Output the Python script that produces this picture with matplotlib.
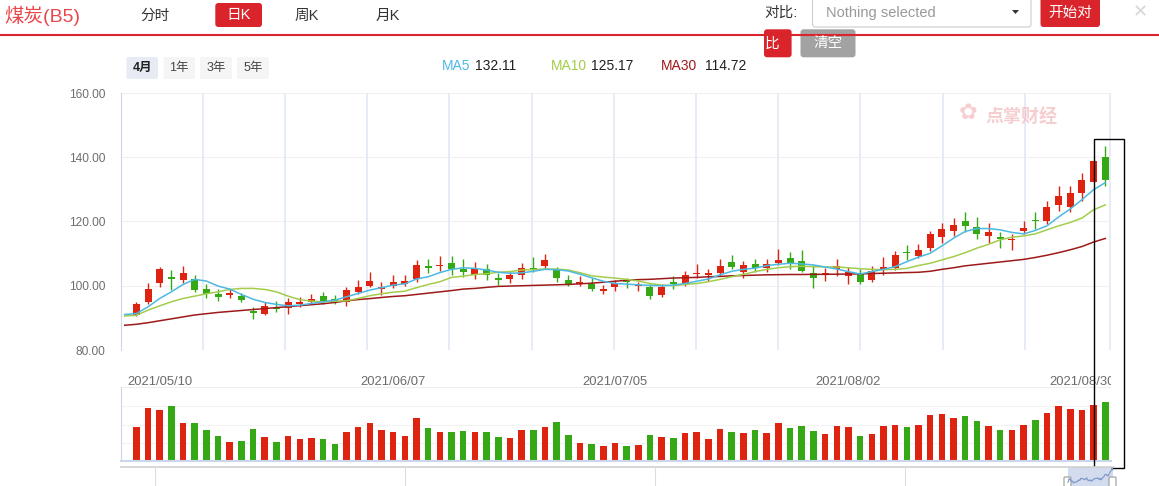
import numpy as np
import matplotlib
matplotlib.use("Agg")
import matplotlib.pyplot as plt
from matplotlib.patches import Rectangle, FancyBboxPatch, Polygon

plt.rcParams['font.family'] = ['Liberation Sans', 'Noto Sans CJK SC', 'DejaVu Sans']

# ---------------- data ----------------
title = "煤炭(B5)"
tick_dates = ["2021/05/10", "2021/06/07", "2021/07/05", "2021/08/02", "2021/08/30"]
tick_idx = [2, 22, 41, 61, 81]
y_ticks = [80, 100, 120, 140, 160]

opens = [91.04, 94.8, 100.73, 102.8, 101.8, 102.0, 98.96, 97.4, 97.2, 96.9,
         92.1, 91.25, 93.3, 93.1, 94.3, 94.8, 96.77, 95.8, 95.0, 98.1,
         100.0, 99.0, 100.0, 100.7, 102.1, 106.15, 106.25, 107.0, 105.2, 103.5,
         105.2, 102.4, 102.1, 103.5, 105.5, 106.25, 104.9, 101.8, 100.6, 100.5,
         98.5, 99.5, 101.46, 99.8, 99.7, 97.2, 101.04, 100.6, 103.65, 103.5,
         104.06, 107.4, 104.4, 106.8, 105.6, 107.0, 108.65, 107.7, 103.85, 103.3,
         105.1, 103.1, 103.6, 101.8, 105.1, 105.6, 110.5, 109.4, 111.9, 115.3,
         116.9, 120.2, 118.2, 115.6, 115.1, 114.2, 116.9, 120.5, 120.3, 125.0,
         124.6, 129.0, 132.2, 140.2]
highs = [94.8, 101.0, 105.8, 104.9, 106.1, 103.3, 100.4, 98.85, 98.96, 97.6,
         93.3, 94.8, 95.4, 96.25, 96.5, 97.3, 98.0, 97.1, 99.5, 101.8,
         104.2, 101.25, 103.5, 103.5, 108.0, 108.3, 109.3, 109.3, 108.2, 107.4,
         106.8, 104.0, 104.2, 107.0, 108.85, 109.9, 105.7, 103.3, 103.0, 102.3,
         100.2, 101.8, 102.3, 101.04, 100.4, 100.7, 102.9, 104.6, 106.8, 105.2,
         108.3, 109.6, 107.8, 108.3, 108.3, 111.5, 110.4, 111.1, 106.35, 105.4,
         108.3, 105.7, 105.3, 106.15, 108.96, 110.8, 112.7, 113.0, 117.1, 119.6,
         121.1, 123.0, 121.35, 119.5, 116.7, 116.1, 120.1, 123.0, 126.25, 131.15,
         131.15, 135.2, 139.0, 143.65]
lows = [90.6, 94.2, 99.5, 98.6, 101.0, 98.0, 96.25, 95.3, 96.25, 94.8,
        89.7, 90.8, 91.9, 91.25, 93.4, 94.4, 94.4, 94.4, 93.75, 97.4,
        99.6, 97.1, 99.2, 99.8, 101.25, 104.0, 104.7, 103.3, 102.8, 102.1,
        101.9, 100.3, 100.9, 102.0, 104.2, 105.2, 101.25, 100.0, 100.0, 98.3,
        97.5, 98.4, 99.4, 98.4, 95.9, 96.6, 99.06, 99.8, 102.5, 101.46,
        103.1, 105.2, 102.5, 104.3, 104.4, 106.5, 105.3, 104.3, 99.4, 101.5,
        103.1, 100.6, 100.5, 101.25, 103.5, 105.0, 107.9, 108.5, 110.9, 113.2,
        115.5, 116.8, 114.7, 113.4, 111.6, 111.1, 116.25, 117.7, 119.25, 123.4,
        123.0, 126.5, 132.2, 131.0]
closes = [94.17, 98.96, 105.2, 102.2, 103.85, 98.65, 97.5, 96.56, 97.8, 95.7,
          91.6, 93.65, 92.9, 94.8, 95.0, 95.8, 95.0, 95.2, 98.65, 99.6,
          101.46, 99.6, 101.04, 101.46, 106.5, 105.4, 106.45, 105.2, 104.2, 105.2,
          103.4, 101.9, 103.3, 105.4, 105.2, 108.0, 102.3, 100.4, 101.25, 98.85,
          98.96, 100.9, 101.04, 100.1, 96.9, 99.7, 100.5, 103.5, 103.95, 103.85,
          106.0, 105.9, 106.5, 105.6, 106.9, 108.0, 107.2, 104.7, 102.3, 103.85,
          106.0, 104.2, 101.25, 104.7, 105.9, 109.6, 110.1, 111.1, 116.15, 117.7,
          118.96, 118.75, 116.0, 116.8, 114.4, 114.4, 118.0, 120.1, 124.6, 128.0,
          128.96, 133.0, 138.96, 132.8]
volumes = [1.87, 2.91, 2.80, 3.02, 2.09, 2.09, 1.70, 1.37, 1.04, 1.10,
           1.76, 1.32, 1.04, 1.37, 1.21, 1.26, 1.21, 0.93, 1.59, 1.87,
           2.09, 1.70, 1.59, 1.37, 2.36, 1.81, 1.59, 1.59, 1.65, 1.59,
           1.59, 1.32, 1.26, 1.70, 1.70, 1.87, 2.14, 1.43, 0.99, 0.93,
           0.82, 0.99, 0.82, 0.88, 1.43, 1.32, 1.26, 1.54, 1.59, 1.21,
           1.76, 1.59, 1.54, 1.70, 1.54, 2.09, 1.81, 1.92, 1.65, 1.48,
           1.92, 1.87, 1.37, 1.48, 1.92, 1.98, 1.87, 1.98, 2.53, 2.58,
           2.36, 2.47, 2.20, 1.92, 1.70, 1.70, 1.98, 2.25, 2.64, 3.02,
           2.86, 2.80, 3.08, 3.24]
# moving averages, first value belongs to the (hidden) session before the first candle
ma5 = [91.04, 91.35, 93.44, 96.04, 98.1, 100.4, 101.98, 101.46, 99.9, 98.96,
       97.3, 95.8, 94.8, 94.2, 93.75, 93.96, 94.5, 95.0, 95.5, 96.56,
       97.6, 98.65, 99.4, 100.2, 100.6, 102.1, 102.8, 104.1, 105.1, 105.6,
       105.4, 104.9, 104.2, 103.9, 104.0, 104.5, 105.1, 105.0, 104.6, 103.6,
       102.5, 101.4, 100.7, 100.5, 100.3, 100.1, 100.0, 100.2, 100.7, 101.4,
       102.1, 103.4, 104.5, 105.1, 105.5, 106.26, 106.68, 107.0, 106.8, 106.47,
       105.85, 105.2, 104.4, 103.66, 104.4, 105.1, 105.95, 107.5, 108.9, 110.1,
       112.4, 114.8, 116.9, 117.8, 117.8, 117.4, 116.6, 116.15, 117.2, 118.65,
       121.4, 123.9, 126.8, 129.9, 132.11]
ma10 = [90.6, 90.8, 92.4, 93.75, 95.0, 96.04, 96.77, 97.5, 98.1, 98.85,
        99.17, 99.17, 98.85, 98.1, 96.77, 95.7, 95.2, 95.0, 95.2, 95.3,
        96.04, 96.9, 97.5, 98.0, 98.3, 99.4, 100.4, 101.25, 102.6, 103.0,
        103.5, 103.75, 104.2, 104.4, 104.9, 105.0, 105.2, 105.2, 104.9, 104.06,
        103.1, 102.7, 102.4, 101.98, 101.46, 100.7, 100.2, 100.0, 100.4, 100.7,
        101.25, 101.98, 102.8, 103.55, 104.4, 105.1, 105.6, 105.95, 106.05, 105.95,
        105.85, 105.85, 105.6, 105.3, 105.1, 105.0, 105.1, 105.4, 106.3, 107.0,
        108.03, 109.07, 110.3, 111.7, 112.9, 114.3, 115.1, 115.5, 116.15, 117.4,
        118.65, 119.7, 121.05, 123.65, 125.17]
ma30 = [87.7, 88.0, 88.5, 89.1, 89.7, 90.3, 90.9, 91.3, 91.7, 92.0,
        92.3, 92.6, 92.9, 93.2, 93.5, 93.8, 94.1, 94.4, 94.8, 95.3,
        95.7, 96.0, 96.35, 96.67, 96.9, 97.3, 97.7, 98.1, 98.5, 98.96,
        99.17, 99.5, 99.8, 99.9, 100.0, 100.1, 100.2, 100.3, 100.4, 100.6,
        100.8, 101.1, 101.4, 101.7, 101.9, 102.0, 102.2, 102.4, 102.5, 102.6,
        102.8, 102.9, 103.1, 103.2, 103.3, 103.4, 103.45, 103.5, 103.5, 103.55,
        103.55, 103.6, 103.65, 103.7, 103.8, 103.9, 104.0, 104.1, 104.2, 104.5,
        105.1, 105.6, 106.2, 106.6, 107.0, 107.4, 107.8, 108.2, 108.8, 109.5,
        110.3, 111.2, 112.2, 113.6, 114.72]

# ---------------- style ----------------
RED, GREEN = '#de2410', '#34a915'
C5, C10, C30 = '#4cb9e3', '#a3cd4b', '#9e1a1a'
BTN_RED = '#d9242b'
W, H = 1159, 486

fig = plt.figure(figsize=(W / 100, H / 100), dpi=100)


def fax(l, t, r, b, **kw):
    return fig.add_axes([l / W, 1 - b / H, (r - l) / W, (b - t) / H], **kw)


L, R = 120.7, 1111.0
xlo, xhi = -1.34, 83.49
n = len(opens)
x = np.arange(n)
o, h, lo, c = map(np.array, (opens, highs, lows, closes))
cols = np.where(c >= o, RED, GREEN)

# ---- candle panel ----
ax = fax(L, 93, R, 350)
ax.set_xlim(xlo, xhi)
ax.set_ylim(80, 160)
for s in ['top', 'right', 'bottom']:
    ax.spines[s].set_visible(False)
ax.spines['left'].set_color('#ccd6eb')
ax.set_xticks([])
ax.set_yticks(y_ticks)
ax.set_yticklabels([f'{v:.2f}' for v in y_ticks])
ax.tick_params(axis='y', length=0, pad=11.3, labelsize=8.6, labelcolor='#6e6e6e')
for v in y_ticks:
    ax.axhline(v, color='#f0f0f0', lw=0.8, zorder=0)
for gx in np.arange(xlo + 7.04, xhi - 1, 7.04):
    ax.axvline(gx, color='#e6ecf5', lw=1.4, zorder=0)
ax.axvline(xhi - 0.05, color='#e6ecf5', lw=1.4, zorder=0)

ax.vlines(x, lo, h, colors=cols, lw=1.0, zorder=2)
ax.bar(x, np.maximum(np.abs(c - o), 0.25), bottom=np.minimum(o, c), width=0.6,
       color=cols, linewidth=0, zorder=3)
xm = np.arange(-1, n)
ax.plot(xm, ma30, color=C30, lw=1.1, zorder=4)
ax.plot(xm, ma10, color=C10, lw=1.1, zorder=4)
ax.plot(xm, ma5, color=C5, lw=1.1, zorder=4)

# ---- date labels ----
lab = fax(L, 370, R, 393)
lab.set_xlim(xlo, xhi)
lab.set_ylim(0, 1)
lab.axis('off')
for i, d in zip(tick_idx, tick_dates):
    lab.text(i, 0.5, d, ha='center', va='center', fontsize=9.4, color='#6b6b6b', clip_on=True)

# ---- volume panel ----
vax = fax(L, 386.5, R, 461)
vax.set_xlim(xlo, xhi)
vax.set_ylim(0, 4.09)
vax.set_xticks([])
vax.set_yticks([])
for s in ['top', 'right']:
    vax.spines[s].set_visible(False)
vax.spines['left'].set_color('#ccd6eb')
vax.spines['bottom'].set_color('#ccd6eb')
vax.spines['bottom'].set_linewidth(1.5)
for v in [1, 2, 3]:
    vax.axhline(v, color='#f2f2f2', lw=0.8, zorder=0)
vax.axhline(4.07, color='#eeeeee', lw=0.8, zorder=0)
vax.bar(x, volumes, width=0.56, color=cols, linewidth=0, zorder=2)

# ---- overlay (header, legend, decorations) ----
ov = fig.add_axes([0, 0, 1, 1], zorder=10)
ov.set_xlim(0, W)
ov.set_ylim(H, 0)
ov.axis('off')


def box(x0, y0, x1, y1, fc, ec='none', lw=0, r=3):
    ov.add_patch(FancyBboxPatch((x0 + r, y0 + r), x1 - x0 - 2 * r, y1 - y0 - 2 * r,
                                boxstyle=f"round,pad={r}", fc=fc, ec=ec, lw=lw))


ov.text(4, 16, title, color='#e8474c', fontsize=14, ha='left', va='center')
ov.text(154.5, 16, '分时', color='#333333', fontsize=10.5, ha='center', va='center')
box(215.3, 3, 262, 27, BTN_RED)
ov.text(238.6, 15.5, '日K', color='white', fontsize=10.5, ha='center', va='center')
ov.text(307, 16, '周K', color='#333333', fontsize=10.5, ha='center', va='center')
ov.text(388, 16, '月K', color='#333333', fontsize=10.5, ha='center', va='center')
ov.plot([0, W], [35.5, 35.5], color=BTN_RED, lw=1.5)

ov.text(764, 13, '对比:', color='#333333', fontsize=10.5, ha='left', va='center')
box(812.5, -2, 1031, 27, 'white', ec='#cccccc', lw=0.8)
ov.text(826, 12.5, 'Nothing selected', color='#999999', fontsize=10.5, ha='left', va='center')
ov.add_patch(Polygon([(1012, 10), (1019, 10), (1015.5, 14)], closed=True, fc='#333333', ec='none'))
box(1040.5, -3, 1100, 27, BTN_RED)
ov.text(1070, 13, '开始对', color='white', fontsize=10.5, ha='center', va='center')
box(764, 29.3, 791.6, 57.3, BTN_RED)
ov.text(765, 43.5, '比', color='white', fontsize=10.5, ha='left', va='center')
box(800.5, 29.3, 855.5, 57.3, '#a2a2a2')
ov.text(828, 43.5, '清空', color='white', fontsize=10.5, ha='center', va='center')
ov.text(1140, 12, '✕', color='#d8d8d8', fontsize=13, ha='center', va='center',
        family=['DejaVu Sans'])

periods = ['4月', '1年', '3年', '5年']
pspans = [(126.5, 158), (163.6, 195), (200, 232), (237, 269)]
for k, (p, (x0, x1)) in enumerate(zip(periods, pspans)):
    box(x0, 57, x1, 79, '#e6ebf4' if k == 0 else '#f5f5f5', r=2)
    ov.text((x0 + x1) / 2, 68, p, color='#222222' if k == 0 else '#444444', fontsize=9,
            ha='center', va='center', weight='bold' if k == 0 else 'normal')

legend = [('MA5', ma5[-1], C5, 442, 475.5), ('MA10', ma10[-1], C10, 551, 591),
          ('MA30', ma30[-1], C30, 661, 704.5)]
for name, val, col, xn, xv in legend:
    ov.text(xn, 66, name, color=col, fontsize=10, ha='left', va='center')
    ov.text(xv, 66, f'{val:.2f}', color='#222222', fontsize=10, ha='left', va='center')

# watermark
ov.text(968, 113, '✿', color='#f2aeb2', fontsize=16, ha='center', va='center', alpha=0.6,
        family=['DejaVu Sans'])
ov.text(985, 118, '点掌财经', color='#f2aeb2', fontsize=13, ha='left', va='center',
        weight='bold', alpha=0.6)

# highlight frame around the last session
ov.add_patch(Rectangle((1093.7, 139.3), 30.6, 328.7, fill=False, ec='black', lw=1))

# data-zoom strip
ov.plot([121.4, 1112.5], [466.7, 466.7], color='#d0d0d0', lw=1.2)
for sx in [155.4, 405.4, 655.4, 904.6]:
    ov.plot([sx, sx], [467, 487], color='#dedede', lw=0.8)
ov.add_patch(Rectangle((1068, 467.2), 44.5, 20, fc='#d3dcef', ec='none'))
cmin, cmax = min(closes), max(closes)
sx_ = 1068 + (x / (n - 1)) * 44.5
sy_ = 483 - (c - cmin) / (cmax - cmin) * 15
ov.plot(sx_, sy_, color='#7f98c8', lw=0.8)
box(1064, 477, 1071, 490, 'white', ec='#9a9a9a', lw=0.8, r=1)
box(1109, 477, 1116, 490, 'white', ec='#9a9a9a', lw=0.8, r=1)

fig.savefig('out.png', dpi=100)
